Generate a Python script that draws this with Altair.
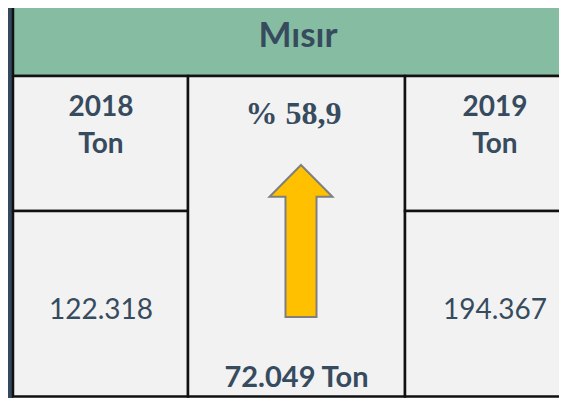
import altair as alt
import pandas as pd

# ---- content ----
title = "Mısır"
years = ["2018", "2019"]
unit = "Ton"
amounts = ["122.318", "194.367"]
change_pct = "% 58,9"
difference = "72.049 Ton"

# ---- layout (page pixel coordinates) ----
W, H, M = 567, 406, 8
PW, PH = W - 2 * M, H - 2 * M          # plot area that fits the window
col_centers = [101, 495]
mid_center = 296

xs = alt.Scale(domain=[M, M + PW], range=[0, PW], nice=False, zero=False)
ys = alt.Scale(domain=[M, M + PH], range=[0, PH], nice=False, zero=False)

DARK = "#34495E"
TEXT = "#374B5E"
CELL = "#F2F2F2"
BOTTOM = M + PH - 1.5

boxes = pd.DataFrame([
    dict(x=0, x2=12, y=0, y2=H + 5, fill=DARK, stroke=DARK),
    dict(x=13, x2=620, y=0, y2=76, fill="#86BDA2", stroke="#111111"),
    dict(x=13, x2=188, y=76, y2=211, fill=CELL, stroke="#111111"),
    dict(x=13, x2=188, y=211, y2=BOTTOM, fill=CELL, stroke="#111111"),
    dict(x=188, x2=405, y=76, y2=BOTTOM, fill=CELL, stroke="#111111"),
    dict(x=405, x2=620, y=76, y2=211, fill=CELL, stroke="#111111"),
    dict(x=405, x2=620, y=211, y2=BOTTOM, fill=CELL, stroke="#111111"),
])

rects = alt.Chart(boxes).mark_rect(strokeWidth=2.5, clip=True).encode(
    x=alt.X("x:Q", scale=xs, axis=None),
    x2="x2:Q",
    y=alt.Y("y:Q", scale=ys, axis=None),
    y2="y2:Q",
    fill=alt.Fill("fill:N", scale=None),
    stroke=alt.Stroke("stroke:N", scale=None),
)

def text_layer(df, font, size, weight):
    return alt.Chart(df).mark_text(
        font=font, fontSize=size, fontWeight=weight, color=TEXT,
        align="center", baseline="alphabetic",
    ).encode(
        x=alt.X("x:Q", scale=xs, axis=None),
        y=alt.Y("y:Q", scale=ys, axis=None),
        text="t:N",
    )

title_df = pd.DataFrame([dict(t=title, x=298, y=47)])
bold_df = pd.DataFrame(
    [dict(t=years[i], x=col_centers[i], y=116) for i in range(2)]
    + [dict(t=unit, x=col_centers[i], y=153) for i in range(2)]
)
diff_df = pd.DataFrame([dict(t=difference, x=mid_center + 0.5, y=387)])
reg_df = pd.DataFrame([dict(t=amounts[i], x=col_centers[i], y=319) for i in range(2)])
pct_df = pd.DataFrame([dict(t=change_pct, x=293.5, y=124)])

arrow_path = ("M0,-1 L0.414,-0.583 L0.204,-0.583 L0.204,1 "
              "L-0.204,1 L-0.204,-0.583 L-0.414,-0.583 Z")
arrow_df = pd.DataFrame([dict(x=301, y=241)])
arrow = alt.Chart(arrow_df).mark_point(
    shape=arrow_path, size=152 * 152, filled=True, color="#FFC000",
    fill="#FFC000", stroke="#7F7F7F", strokeWidth=2, opacity=1,
).encode(
    x=alt.X("x:Q", scale=xs, axis=None),
    y=alt.Y("y:Q", scale=ys, axis=None),
)

chart = alt.layer(
    rects,
    arrow,
    text_layer(title_df, "Lato", 35, "bold"),
    text_layer(bold_df, "Lato", 28, "bold"),
    text_layer(diff_df, "Lato", 29, "bold"),
    text_layer(reg_df, "Lato", 28, "normal"),
    text_layer(pct_df, "Liberation Serif", 32, "bold"),
).properties(
    width=PW, height=PH,
    autosize=alt.AutoSizeParams(type="none"),
    padding=0,
    background="white",
).configure_view(stroke=None)

chart.save("out.html", embed_options={"renderer": "svg", "actions": False})
